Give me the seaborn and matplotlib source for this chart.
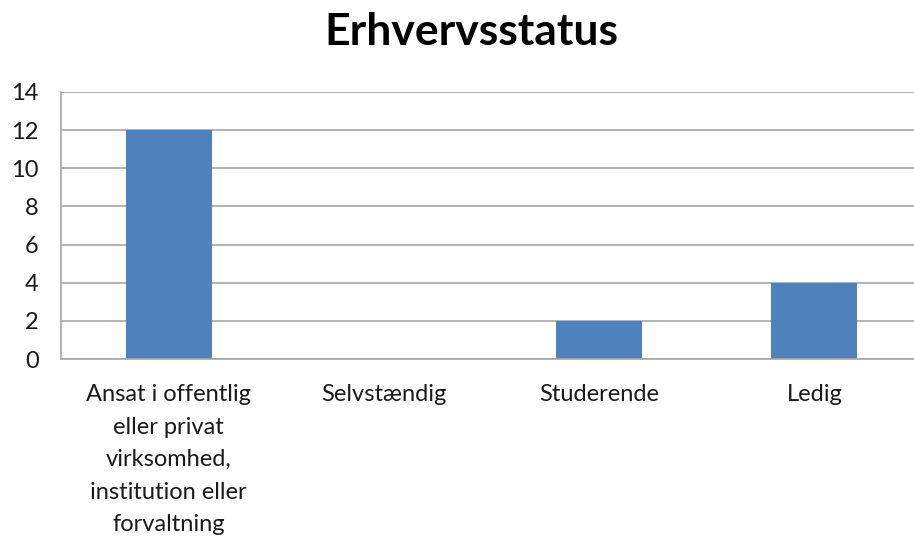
import matplotlib
matplotlib.use("Agg")
import matplotlib.pyplot as plt
import seaborn as sns
import pandas as pd

sns.set_theme(style="white")
plt.rcParams['font.family'] = ['Lato', 'DejaVu Sans']

# data
categories = [
    "Ansat i offentlig\neller privat\nvirksomhed,\ninstitution eller\nforvaltning",
    "Selvstændig",
    "Studerende",
    "Ledig",
]
counts = [12, 0, 2, 4]

df = pd.DataFrame({"status": categories, "antal": counts})

fig = plt.figure(figsize=(9.14, 5.38), dpi=100)
ax = fig.add_axes([0.0667, 0.3327, 0.942, 0.4963])

sns.barplot(data=df, x="status", y="antal", color="#4F81BD", saturation=1,
            width=0.4, linewidth=0, ax=ax)

ax.set_ylim(0, 14)
ax.set_yticks(range(0, 15, 2))
ax.yaxis.grid(True, color="#A6A6A6", linewidth=1.2)
ax.set_axisbelow(True)
ax.set_xlabel("")
ax.set_ylabel("")

for side in ["top", "right"]:
    ax.spines[side].set_visible(False)
for side in ["left", "bottom"]:
    ax.spines[side].set_color("#A6A6A6")
    ax.spines[side].set_linewidth(1.2)

ax.tick_params(axis="y", length=0, pad=16, labelsize=17, labelcolor="#1a1a1a")
ax.tick_params(axis="x", length=0, pad=18, labelsize=17, labelcolor="#1a1a1a")
for lbl in ax.get_xticklabels():
    lbl.set_linespacing(1.68)
    lbl.set_verticalalignment("top")

fig.text(0.516, 0.94, "Erhvervsstatus", ha="center", va="center",
         fontsize=32, fontweight="bold", color="black")

fig.savefig("out.png", dpi=100)
